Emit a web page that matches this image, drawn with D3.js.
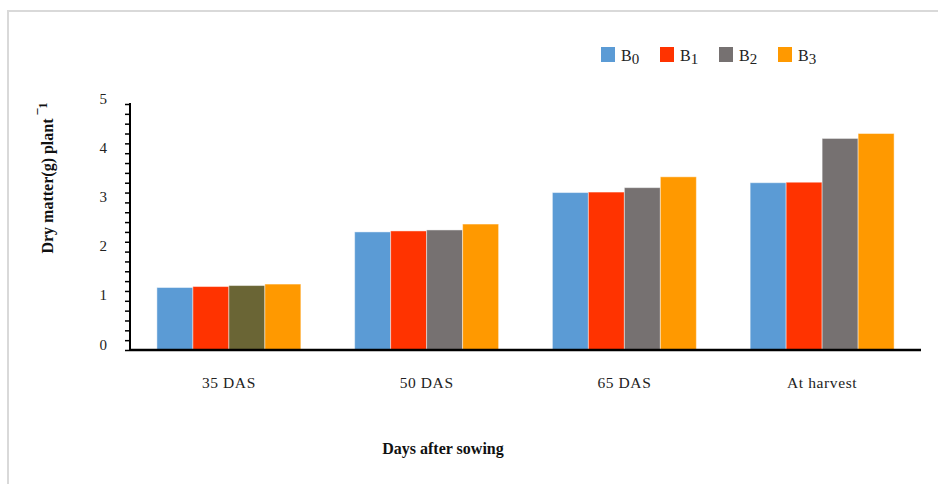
<!DOCTYPE html>
<html>
<head>
<meta charset="utf-8">
<script src="https://cdn.jsdelivr.net/npm/d3@7"></script>
<style>
  html, body { margin: 0; padding: 0; background: #fff; }
  svg { display: block; font-family: "Liberation Serif", "DejaVu Serif", serif; }
</style>
</head>
<body>
<svg id="chart" width="938" height="484"></svg>
<script>
// Dry matter per plant at each sampling stage
const categories = ["35 DAS", "50 DAS", "65 DAS", "At harvest"];
const seriesNames = ["B0", "B1", "B2", "B3"];
const B0 = [1.27, 2.40, 3.20, 3.40];
const B1 = [1.29, 2.42, 3.21, 3.41];
const B2 = [1.31, 2.44, 3.30, 4.30];
const B3 = [1.34, 2.56, 3.52, 4.40];
const seriesValues = [B0, B1, B2, B3];
const seriesColors = ["#5B9BD5", "#FF3300", "#767171", "#FF9900"];
// single bar drawn in a different shade: [series index, category index, colour]
const colorOverrides = [[2, 0, "#6A6535"]];
const yTicks = [0, 1, 2, 3, 4, 5];
const xTitle = "Days after sowing";
const yTitle = "Dry matter(g) plant";

const svg = d3.select("#chart");
const W = 938, H = 484;
const plotLeft = 130, plotRight = 921, plotTop = 104, plotBottom = 350;

// outer frame
svg.append("path")
  .attr("d", `M8,${H} V11 H${W}`)
  .attr("fill", "none")
  .attr("stroke", "#d9d9d9")
  .attr("stroke-width", 2);

const x0 = d3.scaleBand().domain(categories).range([plotLeft, plotRight])
  .paddingInner(0.272).paddingOuter(0.136);
const x1 = d3.scaleBand().domain(seriesNames).range([0, x0.bandwidth()]);
const y = d3.scaleLinear().domain([0, 5]).range([plotBottom, plotTop]);

const rows = [];
categories.forEach((c, ci) => {
  seriesNames.forEach((s, si) => {
    let col = seriesColors[si];
    colorOverrides.forEach(o => { if (o[0] === si && o[1] === ci) col = o[2]; });
    rows.push({ cat: c, series: s, value: seriesValues[si][ci], color: col });
  });
});

svg.append("g").selectAll("rect").data(rows).join("rect")
  .attr("x", d => x0(d.cat) + x1(d.series))
  .attr("y", d => y(d.value))
  .attr("width", x1.bandwidth())
  .attr("height", d => y(0) - y(d.value))
  .attr("fill", d => d.color)
  .attr("stroke", "#ffffff")
  .attr("stroke-opacity", 0.45)
  .attr("stroke-width", 1);

// y axis with minor ticks every 0.2
const minor = d3.range(0, 5.001, 0.2);
const yAxis = svg.append("g").attr("transform", `translate(${plotLeft},0)`)
  .call(d3.axisLeft(y).tickValues(minor).tickSize(5).tickFormat(""));
yAxis.select(".domain").attr("stroke", "#000").attr("stroke-width", 2)
  .attr("d", `M0,${plotTop - 1}V${plotBottom}`);
yAxis.selectAll(".tick line").attr("stroke", "#000").attr("stroke-width", 1.5);

svg.append("g").selectAll("text").data(yTicks).join("text")
  .attr("x", 107)
  .attr("y", d => y(d) - 0.5)
  .attr("text-anchor", "end")
  .attr("font-size", 15)
  .attr("fill", "#222")
  .text(d => d);

// baseline
const xAxis = svg.append("g").attr("transform", `translate(0,${plotBottom})`)
  .call(d3.axisBottom(x0).tickSize(0).tickPadding(27));
xAxis.select(".domain").attr("stroke", "#000").attr("stroke-width", 2.5)
  .attr("d", `M${plotLeft},0H${plotRight}`);
xAxis.selectAll(".tick text")
  .attr("font-family", "Liberation Serif, DejaVu Serif, serif")
  .attr("font-size", 15.5)
  .attr("letter-spacing", 0.6)
  .attr("fill", "#222");

// axis titles
svg.append("text")
  .attr("x", 443).attr("y", 454)
  .attr("text-anchor", "middle")
  .attr("font-size", 16)
  .attr("font-weight", "bold")
  .attr("fill", "#111")
  .text(xTitle);

const yt = svg.append("text")
  .attr("transform", "translate(53,178) rotate(-90)")
  .attr("text-anchor", "middle")
  .attr("font-size", 16)
  .attr("font-weight", "bold")
  .attr("fill", "#111");
yt.append("tspan").text(yTitle + " ");
yt.append("tspan").attr("dy", -6).attr("font-size", 12).text("¯1");

// legend
const legend = svg.append("g");
seriesNames.forEach((s, i) => {
  const gx = 601 + i * 59;
  legend.append("rect")
    .attr("x", gx).attr("y", 47).attr("width", 14).attr("height", 15)
    .attr("fill", seriesColors[i]);
  const t = legend.append("text")
    .attr("x", gx + 20).attr("y", 61)
    .attr("font-size", 16)
    .attr("fill", "#222");
  t.append("tspan").text(s.charAt(0));
  t.append("tspan").attr("dy", 3).attr("font-size", 15).text(s.slice(1));
});
</script>
</body>
</html>
